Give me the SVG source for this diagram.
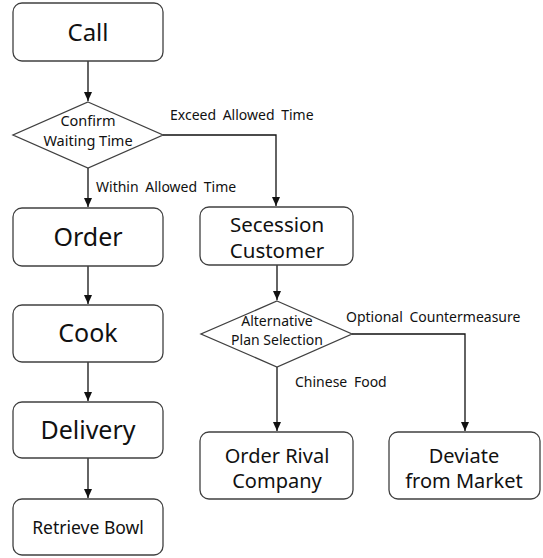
<svg xmlns="http://www.w3.org/2000/svg" width="543" height="558" viewBox="0 0 543 558">
<style>
.box{fill:#fff;stroke:#404040;stroke-width:1.3}
.t{font-family:"Noto Sans","Open Sans",sans-serif;fill:#111;text-anchor:middle}
.lbl{font-family:"Noto Sans","Open Sans",sans-serif;fill:#111;font-size:14px;word-spacing:3px}
.c{fill:none;stroke:#111;stroke-width:1.3}
</style>
<defs>
<marker id="ah" markerWidth="10" markerHeight="10" refX="9" refY="5" orient="auto" markerUnits="userSpaceOnUse">
<path d="M0,1 L9,5 L0,9 Z" fill="#111"/>
</marker>
</defs>
<rect width="543" height="558" fill="#fff"/>
<g id="connectors">
<path class="c" d="M88,61 V101" marker-end="url(#ah)"/>
<path class="c" d="M88,168 V207" marker-end="url(#ah)"/>
<path class="c" d="M163,135 H276 V206" marker-end="url(#ah)"/>
<path class="c" d="M88,266 V304" marker-end="url(#ah)"/>
<path class="c" d="M88,362 V401" marker-end="url(#ah)"/>
<path class="c" d="M88,458 V498" marker-end="url(#ah)"/>
<path class="c" d="M277,265 V300" marker-end="url(#ah)"/>
<path class="c" d="M277,367 V431" marker-end="url(#ah)"/>
<path class="c" d="M352,334 H465 V431" marker-end="url(#ah)"/>
<text class="lbl" x="170" y="120">Exceed Allowed Time</text>
<text class="lbl" x="96" y="192">Within Allowed Time</text>
<text class="lbl" x="346" y="322">Optional Countermeasure</text>
<text class="lbl" x="295" y="387">Chinese Food</text>
</g>
<g id="call">
<rect class="box" x="13" y="3" width="150" height="58" rx="9"/>
<text class="t" x="88" y="41" font-size="24">Call</text>
</g>
<g id="confirm">
<polygon class="box" points="88,102 163,135 88,168 13,135"/>
<text class="t" x="88" y="126" font-size="14.5">Confirm</text>
<text class="t" x="88" y="146" font-size="14.5">Waiting Time</text>
</g>
<g id="order">
<rect class="box" x="13" y="208" width="150" height="58" rx="9"/>
<text class="t" x="88" y="246" font-size="25">Order</text>
</g>
<g id="cook">
<rect class="box" x="13" y="305" width="150" height="57" rx="9"/>
<text class="t" x="88" y="342" font-size="25">Cook</text>
</g>
<g id="delivery">
<rect class="box" x="13" y="402" width="150" height="56" rx="9"/>
<text class="t" x="88" y="439" font-size="25">Delivery</text>
</g>
<g id="retrieve">
<rect class="box" x="13" y="499" width="150" height="56" rx="9"/>
<text class="t" x="88" y="534" font-size="17.5">Retrieve Bowl</text>
</g>
<g id="secession">
<rect class="box" x="200" y="207" width="153" height="58" rx="9"/>
<text class="t" x="277" y="232" font-size="20.5">Secession</text>
<text class="t" x="277" y="258" font-size="20.5">Customer</text>
</g>
<g id="alternative">
<polygon class="box" points="277,301 352,334 277,367 201,334"/>
<text class="t" x="277" y="326" font-size="14">Alternative</text>
<text class="t" x="277" y="345" font-size="14">Plan Selection</text>
</g>
<g id="rival">
<rect class="box" x="200" y="432" width="153" height="67" rx="9"/>
<text class="t" x="277" y="463" font-size="20">Order Rival</text>
<text class="t" x="277" y="488" font-size="20">Company</text>
</g>
<g id="deviate">
<rect class="box" x="389" y="432" width="151" height="67" rx="9"/>
<text class="t" x="464" y="463" font-size="20">Deviate</text>
<text class="t" x="464" y="488" font-size="20">from Market</text>
</g>
</svg>
